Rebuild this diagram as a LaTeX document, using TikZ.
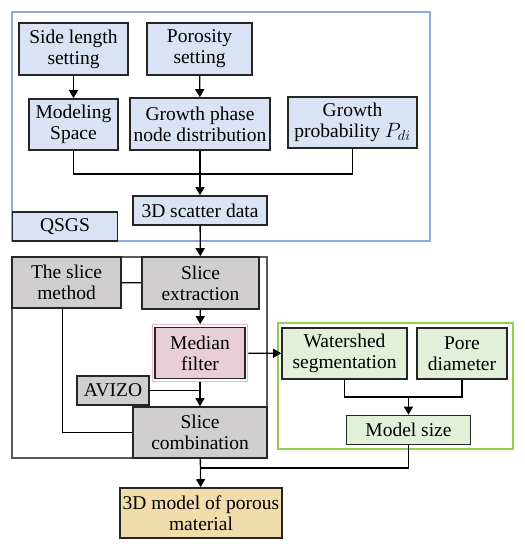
\documentclass[tikz,border=0pt]{standalone}
\usepackage{fontspec}
\setmainfont{Liberation Serif}
\usepackage{tikz}
\usetikzlibrary{arrows.meta, positioning, calc, fit}
\definecolor{bfill}{HTML}{DAE3F3}
\definecolor{bline}{HTML}{8FAADC}
\definecolor{gfill}{HTML}{D0CECE}
\definecolor{pfill}{HTML}{E8CFD7}
\definecolor{pline}{HTML}{F4B8C4}
\definecolor{vfill}{HTML}{E2F0D9}
\definecolor{vline}{HTML}{92D050}
\definecolor{tfill}{HTML}{F1DCAC}

\begin{document}
\begin{tikzpicture}[
    x=1pt, y=-1pt,
    font=\fontsize{19.5}{21}\selectfont,
    box/.style={draw=black!85, line width=1.6pt, rectangle, align=center, inner sep=1pt},
    bbox/.style={box, fill=bfill},
    gbox/.style={box, fill=gfill},
    pbox/.style={box, fill=pfill},
    vbox/.style={box, fill=vfill},
    tbox/.style={box, fill=tfill},
    rel/.style={-{Triangle[length=8pt, width=9pt]}, line width=1.3pt},
    lnk/.style={line width=1.3pt}
]
\useasboundingbox (0,0) rectangle (525,550);

% frames
\draw[bline, line width=1.2pt] (12,12) rectangle (430,241);
\draw[black!65, line width=1.2pt] (12,257) rectangle (267,458);
\draw[vline, line width=1.2pt] (278,323) rectangle (513,449);

% QSGS part
\node[bbox, minimum width=109pt, minimum height=52pt] (side)  at ( 73.5, 49) {Side length\\setting};
\node[bbox, minimum width=105pt, minimum height=52pt] (poro)  at (199.5, 49) {Porosity\\setting};
\node[bbox, minimum width=89pt,  minimum height=51pt] (space) at ( 73.5,124.5) {Modeling\\Space};
\node[bbox, minimum width=140pt, minimum height=52pt] (grow)  at (200,124) {Growth phase\\node distribution};
\node[bbox, minimum width=129pt, minimum height=51pt] (prob)  at (352.5,122.5) {Growth\\probability $P_{di}$};
\node[bbox, minimum width=134pt, minimum height=29pt] (scat)  at (200,210.5) {3D scatter data};
\node[bbox, minimum width=105pt, minimum height=29pt] (qsgs)  at ( 65,226.5) {QSGS};
\coordinate (j1) at (200,174);

% slice part
\node[gbox, minimum width=109pt, minimum height=51pt] (smeth) at ( 66.5,282.5) {The slice\\method};
\node[gbox, minimum width=117pt, minimum height=52pt] (sext)  at (200.5,283) {Slice\\extraction};
\node[pbox, minimum width=90pt,  minimum height=51pt] (med)   at (200,353) {Median\\filter};
\node[draw=pline, line width=1.2pt, fit=(med), inner sep=2pt] (medf) {};
\node[gbox, minimum width=72pt,  minimum height=29pt] (avizo) at (113,390.5) {AVIZO};
\node[gbox, minimum width=134pt, minimum height=51pt] (scomb) at (200,432.5) {Slice\\combination};

% pore part
\node[vbox, minimum width=125pt, minimum height=51pt] (water) at (344.5,353.5) {Watershed\\segmentation};
\node[vbox, minimum width=90pt,  minimum height=51pt] (pore)  at (462,353.5) {Pore\\diameter};
\node[vbox, minimum width=124pt, minimum height=29pt] (msize) at (408.5,430) {Model size};
\coordinate (j2) at (408.5,397);
\coordinate (j3) at (200,468);

\node[tbox, minimum width=162pt, minimum height=50pt] (model) at (201,513) {3D model of porous\\material};

% connectors
\draw[rel] (side) -- (space);
\draw[rel] (poro) -- (grow);
\draw[lnk] (space) |- (j1);
\draw[lnk] (prob) |- (j1);
\draw[rel] (grow) -- (scat);
\draw[rel] (scat) -- (sext);
\draw[lnk] (smeth) -- (sext);
\draw[rel] (sext) -- (medf);
\draw[rel] (medf) -- (scomb);
\draw[lnk] (avizo) -- (avizo -| scomb);
\draw[lnk] ([xshift=-4pt]smeth.south) |- (scomb);
\draw[rel] (medf) -- (water);
\draw[lnk] (water) |- (j2);
\draw[lnk] (pore) |- (j2);
\draw[rel] (j2) -- (msize);
\draw[lnk] (msize) |- (j3);
\draw[rel] (scomb) -- (model);
\end{tikzpicture}
\end{document}
